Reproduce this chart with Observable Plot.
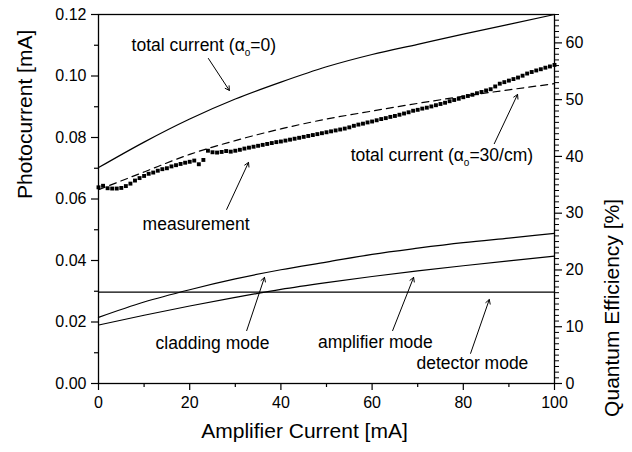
<!DOCTYPE html>
<html><head><meta charset="utf-8">
<script src="https://cdn.jsdelivr.net/npm/d3@7"></script>
<script src="https://cdn.jsdelivr.net/npm/@observablehq/plot@0.6"></script>
<style>body{margin:0;background:#fff} #chart{width:632px;height:452px}</style>
</head><body><div id="chart"></div>
<script>
// ---- data ----
const modelX = [0,10,20,30,40,50,60,70,80,90,100];
const totalAlpha0 = [0.0702,0.0785,0.0860,0.0925,0.0980,0.1030,0.1070,0.1103,0.1136,0.1168,0.1200];
const totalAlpha30 = [0.0630,0.0688,0.0745,0.0790,0.0828,0.0860,0.0886,0.0911,0.0934,0.0955,0.0975];
const claddingMode = [0.0215,0.0265,0.0305,0.0340,0.0370,0.0395,0.0420,0.0440,0.0458,0.0473,0.0488];
const amplifierMode = [0.0190,0.0222,0.0252,0.0280,0.0306,0.0328,0.0348,0.0366,0.0383,0.0399,0.0414];
const detectorMode = 0.0297;

const measured = [
0.0638,0.0643,0.0635,0.0634,0.0634,0.0636,0.0642,0.0650,0.0660,0.0668,
0.0675,0.0682,0.0686,0.0692,0.0697,0.0700,0.0706,0.0710,0.0714,0.0718,
0.0721,0.0725,0.0713,0.0727,0.0757,0.0752,0.0751,0.0753,0.0756,0.0754,
0.0757,0.0760,0.0764,0.0767,0.0770,0.0773,0.0776,0.0779,0.0782,0.0785,
0.0787,0.0790,0.0793,0.0796,0.0799,0.0802,0.0805,0.0808,0.0811,0.0814,
0.0817,0.0820,0.0823,0.0826,0.0829,0.0833,0.0838,0.0842,0.0845,0.0849,
0.0852,0.0856,0.0860,0.0863,0.0867,0.0870,0.0874,0.0878,0.0882,0.0887,
0.0890,0.0894,0.0897,0.0901,0.0905,0.0909,0.0913,0.0918,0.0922,0.0926,
0.0931,0.0935,0.0939,0.0944,0.0948,0.0953,0.0957,0.0966,0.0975,0.0980,
0.0985,0.0990,0.0995,0.1001,0.1008,0.1013,0.1018,0.1022,0.1027,0.1031,
0.1036];
const measuredX = d3.range(measured.length);

const xTicks = [0,20,40,60,80,100];
const xMinor = [10,30,50,70,90];
const yTicks = [0,0.02,0.04,0.06,0.08,0.10,0.12];
const yMinor = [0.01,0.03,0.05,0.07,0.09,0.11];
const qeTicks = [0,10,20,30,40,50,60];
const qeMax = 65;           // right axis top, in %
const yMax = 0.12;          // left axis top, in mA

const annLabels = ["total current (αₒ=0)","total current (αₒ=30/cm)","measurement","cladding mode","amplifier mode","detector mode"];
const annX = [23.1, 75.3, 21.4, 25.0, 60.7, 82.0];
const annY = [0.1099, 0.0741, 0.0517, 0.0130, 0.0133, 0.0065];
const arrowX1 = [24.1, 86.8, 28.1, 32.5, 64.5, 81.6];
const arrowY1 = [0.1057, 0.0780, 0.0566, 0.0172, 0.0172, 0.0098];
const arrowX2 = [28.7, 91.9, 32.9, 36.4, 69.1, 85.7];
const arrowY2 = [0.0953, 0.0940, 0.0719, 0.0345, 0.0345, 0.0273];

const xTitle = "Amplifier Current [mA]";
const yTitle = "Photocurrent [mA]";
const y2Title = "Quantum Efficiency [%]";

// ---- build ----
const k = yMax / qeMax;
const FONT = "Liberation Sans, Arial, Helvetica, sans-serif";
const model = (arr) => modelX.map((x, i) => ({x, y: arr[i]}));
const meas = measuredX.map((x, i) => ({x, y: measured[i]}));
const ann = annLabels.map((t, i) => ({t, x: annX[i], y: annY[i], x1: arrowX1[i], y1: arrowY1[i], x2: arrowX2[i], y2: arrowY2[i]}));
const qeMinor = d3.range(0, qeMax + 0.001, 1).filter(q => q % 10 !== 0).map(q => q * k);

const plot = Plot.plot({
  width: 632, height: 452,
  marginLeft: 98, marginRight: 78, marginTop: 14, marginBottom: 69,
  style: {fontFamily: FONT, fontSize: "16px", color: "black", background: "white"},
  x: {domain: [0, 100]},
  y: {domain: [0, yMax]},
  marks: [
    Plot.axisX(xTicks, {tickSize: 7, tickPadding: 6, fontSize: 16, label: null, strokeWidth: 1.2}),
    Plot.axisX(xMinor, {tickSize: 4, tickFormat: () => "", label: null, strokeWidth: 1.2}),
    Plot.axisY(yTicks, {tickSize: 7, tickPadding: 5, fontSize: 16, label: null, tickFormat: d3.format(".2f"), strokeWidth: 1.2}),
    Plot.axisY(yMinor, {tickSize: 4, tickFormat: () => "", label: null, strokeWidth: 1.2}),
    Plot.axisY(qeTicks.map(q => q * k), {anchor: "right", tickSize: 7, tickPadding: 4, fontSize: 16, label: null, tickFormat: d => String(Math.round(d / k)), strokeWidth: 1.2}),
    Plot.axisY(qeMinor, {anchor: "right", tickSize: 4, tickFormat: () => "", label: null, strokeWidth: 1}),
    Plot.line(model(totalAlpha0), {x: "x", y: "y", curve: "monotone-x", stroke: "black", strokeWidth: 1.2}),
    Plot.line(model(totalAlpha30), {x: "x", y: "y", curve: "monotone-x", stroke: "black", strokeWidth: 1.2, strokeDasharray: "7,5"}),
    Plot.line(model(claddingMode), {x: "x", y: "y", curve: "monotone-x", stroke: "black", strokeWidth: 1.2}),
    Plot.line(model(amplifierMode), {x: "x", y: "y", curve: "monotone-x", stroke: "black", strokeWidth: 1.2}),
    Plot.ruleY([detectorMode], {stroke: "black", strokeWidth: 1.2}),
    Plot.dot(meas, {x: "x", y: "y", symbol: "square", r: 2.2, fill: "black", stroke: null}),
    Plot.arrow(ann, {x1: "x1", y1: "y1", x2: "x2", y2: "y2", stroke: "black", strokeWidth: 1, headLength: 7, bend: 0}),
    Plot.text(ann, {x: "x", y: "y", text: "t", fontSize: 17.5, fill: "black", textAnchor: "middle"}),
    Plot.frame({stroke: "black", strokeWidth: 1.3}),
    Plot.text([xTitle], {frameAnchor: "bottom", dy: 54, dx: -22, fontSize: 21, fill: "black"}),
    Plot.text([yTitle], {frameAnchor: "left", dx: -73, rotate: -90, fontSize: 21, fill: "black"}),
    Plot.text([y2Title], {frameAnchor: "right", dx: 58, rotate: -90, fontSize: 21, fill: "black"})
  ]
});

// subscript for alpha_o
const NS = "http://www.w3.org/2000/svg";
plot.querySelectorAll("text").forEach(t => {
  const s = t.textContent;
  const i = s.indexOf("ₒ");
  if (i < 0) return;
  while (t.firstChild) t.removeChild(t.firstChild);
  const a = document.createElementNS(NS, "tspan"); a.textContent = s.slice(0, i);
  const b = document.createElementNS(NS, "tspan"); b.textContent = "o"; b.setAttribute("dy", "5"); b.setAttribute("font-size", "10");
  const c = document.createElementNS(NS, "tspan"); c.textContent = s.slice(i + 1); c.setAttribute("dy", "-5");
  t.append(a, b, c);
});

document.getElementById("chart").appendChild(plot);
</script>
</body></html>
